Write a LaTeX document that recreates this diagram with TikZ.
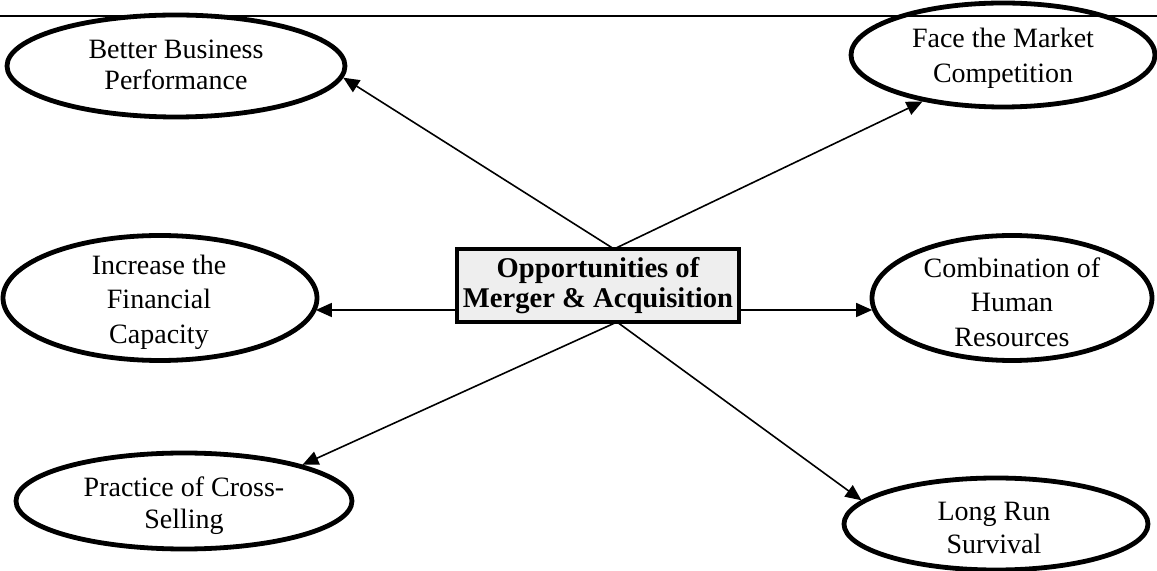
\documentclass[tikz,border=0pt]{standalone}
\usepackage{fontspec}
\setmainfont{Liberation Serif}
\usetikzlibrary{shapes.geometric,arrows.meta}

\tikzset{
  oval/.style={draw, ellipse, line width=2.4pt, inner sep=0pt},
  ovaltext/.style={inner sep=0pt, align=center},
  centrebox/.style={draw, line width=2pt, fill={rgb,255:red,238;green,238;blue,238},
    minimum width=141pt, minimum height=36.5pt, inner sep=0pt, align=center,
    font=\fontsize{14.3}{15}\selectfont\bfseries},
  arr/.style={line width=0.8pt, -{Triangle[length=8pt,width=7pt]}}
}

\begin{document}
\begin{tikzpicture}[x=0.5pt,y=-0.5pt]
\useasboundingbox (0,0) rectangle (1157,571);

%Straight Lines: rule at the top
\draw [line width=1pt] (0,16) -- (1157,16) ;

%Shape: Rectangle
\node [centrebox] (box) at (598,285.5) {Opportunities of\\Merger \& Acquisition};

%Shape: Ellipse
\node [oval, minimum width=169pt, minimum height=51pt] (bb) at (176,66) {};
\node [ovaltext, font=\fontsize{14}{15.5}\selectfont] (bb-t) at (176,65) {Better Business\\Performance};
%Shape: Ellipse
\node [oval, minimum width=152pt, minimum height=52pt] (fm) at (1003,55) {};
\node [ovaltext, font=\fontsize{14}{17.5}\selectfont] (fm-t) at (1003,58) {Face the Market\\Competition};
%Shape: Ellipse
\node [oval, minimum width=157pt, minimum height=62.5pt] (ifc) at (160,298) {};
\node [ovaltext, font=\fontsize{14}{17.25}\selectfont] (ifc-t) at (159,302) {Increase the\\Financial\\Capacity};
%Shape: Ellipse
\node [oval, minimum width=140pt, minimum height=62.5pt] (chr) at (1012,298) {};
\node [ovaltext, font=\fontsize{14}{17.25}\selectfont] (chr-t) at (1012,302) {Combination of\\Human\\Resources};
%Shape: Ellipse
\node [oval, minimum width=168pt, minimum height=48pt] (pcs) at (184,501) {};
\node [ovaltext, font=\fontsize{14}{16}\selectfont] (pcs-t) at (184,506) {Practice of Cross-\\Selling};
%Shape: Ellipse
\node [oval, minimum width=152pt, minimum height=46pt] (lrs) at (996,524) {};
\node [ovaltext, font=\fontsize{14}{16.5}\selectfont] (lrs-t) at (994,528) {Long Run\\Survival};

\coordinate (topjoin) at (614,249);
\coordinate (botjoin) at (617,322);
\coordinate (leftjoin) at (457,310);
\coordinate (rightjoin) at (739,310);

%Straight Lines
\draw [arr] (topjoin) -- (bb.-4) ;
\draw [arr] (topjoin) -- (fm.210) ;
\draw [arr] (leftjoin) -- (ifc.-5 |- leftjoin) ;
\draw [arr] (rightjoin) -- (chr.185 |- rightjoin) ;
\draw [arr] (botjoin) -- (pcs.17) ;
\draw [arr] (botjoin) -- (lrs.170) ;

\end{tikzpicture}
\end{document}
